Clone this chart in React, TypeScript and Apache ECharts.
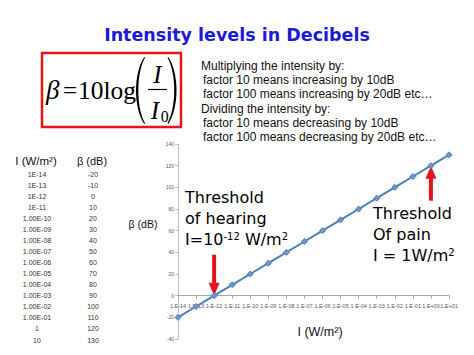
import React, { useEffect, useRef } from "react";
import * as echarts from "echarts";

const xCategories = [
  "1.E-14", "1.E-13", "1.E-12", "1.E-11", "1.E-10", "1.E-09", "1.E-08", "1.E-07",
  "1.E-06", "1.E-05", "1.E-04", "1.E-03", "1.E-02", "1.E-01", "1.E+00", "1.E+01",
];
const dbValues = [-20, -10, 0, 10, 20, 30, 40, 50, 60, 70, 80, 90, 100, 110, 120, 130];
const tableIntensity = [
  "1E-14", "1E-13", "1E-12", "1E-11", "1.00E-10", "1.00E-09", "1.00E-08", "1.00E-07",
  "1.00E-06", "1.00E-05", "1.00E-04", "1.00E-03", "1.00E-02", "1.00E-01", "1", "10",
];
const tableHeaders = ["I (W/m²)", "β (dB)"];
const yMin = -40;
const yMax = 140;
const yInterval = 20;
const title = "Intensity levels in Decibels";
const infoLines = [
  "Multiplying the intensity by:",
  "factor 10 means increasing by 10dB",
  "factor 100 means increasing by 20dB etc…",
  "Dividing the intensity by:",
  "factor 10 means decreasing by 10dB",
  "factor 100 means decreasing by 20dB etc…",
];
const hearingLines = ["Threshold", "of hearing", "I=10{sup|-12} W/m{sup|2}"];
const painLines = ["Threshold", "Of pain", "I = 1W/m{sup|2}"];
const hearingIndex = 2;
const painIndex = 14;

let registered = false;
function registerShapes() {
  if (registered) return;
  registered = true;
  echarts.graphic.registerShape(
    "paren",
    echarts.graphic.extendPath(
      "M11 0 C 0 16, 0 51, 11 67 L 11.8 66.2 C 2.8 51, 2.8 16, 11.8 0.8 Z",
      {}
    )
  );
}

export default function App() {
  const ref = useRef<HTMLDivElement>(null);
  useEffect(() => {
    if (!ref.current) return;
    registerShapes();
    const chart = echarts.init(ref.current, null, { renderer: "svg" });
    chart.setOption({
      animation: false,
      backgroundColor: "#ffffff",
      grid: { left: 178, right: 25, top: 144, bottom: 16, containLabel: false },
      xAxis: {
        type: "category",
        data: xCategories,
        boundaryGap: false,
        axisLine: { onZero: false, lineStyle: { color: "#a6a6a6", width: 1 } },
        axisTick: { show: true, length: 3, lineStyle: { color: "#a6a6a6" } },
        axisLabel: {
          interval: 0,
          fontSize: 5.5,
          color: "#595959",
          margin: 7,
          fontFamily: "Liberation Sans",
          hideOverlap: false,
        },
        splitLine: { show: false },
      },
      yAxis: {
        type: "value",
        min: yMin,
        max: yMax,
        interval: yInterval,
        axisLine: { show: true, lineStyle: { color: "#bfbfbf" } },
        axisTick: { show: true, length: 3, lineStyle: { color: "#bfbfbf" } },
        axisLabel: { fontSize: 5, color: "#595959", margin: 4, fontFamily: "Liberation Sans" },
        splitLine: { show: false },
      },
      series: [
        {
          type: "line",
          data: dbValues,
          symbol: "diamond",
          symbolSize: 6,
          lineStyle: { color: "#4a7ebb", width: 2 },
          itemStyle: { color: "#6f97cc", borderColor: "#4a7ebb", borderWidth: 1 },
        },
      ],
    });

    const zeroPx = chart.convertToPixel({ yAxisIndex: 0 }, 0) as number;
    const minPx = chart.convertToPixel({ yAxisIndex: 0 }, yMin) as number;
    chart.setOption({ xAxis: { offset: -(minPx - zeroPx) } });

    const hp = chart.convertToPixel({ xAxisIndex: 0, yAxisIndex: 0 }, [hearingIndex, dbValues[hearingIndex]]) as number[];
    const pp = chart.convertToPixel({ xAxisIndex: 0, yAxisIndex: 0 }, [painIndex, dbValues[painIndex]]) as number[];
    const red = "#e3151b";

    const annRich = {
      sup: { fontSize: 10, fontFamily: "DejaVu Sans", fill: "#000", verticalAlign: "top", lineHeight: 16 },
    };

    const graphics: any[] = [];
    graphics.push({
      type: "text",
      x: 237,
      y: 35,
      style: {
        text: title,
        fill: "#1b1bd6",
        fontSize: 17.5,
        fontWeight: "bold",
        fontFamily: "DejaVu Sans",
        align: "center",
        verticalAlign: "middle",
      },
    });
    // formula box
    graphics.push({
      type: "rect",
      shape: { x: 42, y: 53, width: 139, height: 74 },
      style: { fill: "none", stroke: red, lineWidth: 2.5 },
    });
    const serif = "Liberation Serif";
    graphics.push({
      type: "text", x: 46, y: 90,
      style: { text: "β", fontSize: 27, fontStyle: "italic", fontFamily: serif, fill: "#000", align: "left", verticalAlign: "middle" },
    });
    graphics.push({
      type: "text", x: 63, y: 90,
      style: { text: "=", fontSize: 25, fontFamily: serif, fill: "#000", align: "left", verticalAlign: "middle" },
    });
    graphics.push({
      type: "text", x: 78, y: 90,
      style: { text: "10log", fontSize: 25.5, fontFamily: serif, fill: "#000", align: "left", verticalAlign: "middle" },
    });
    graphics.push({ type: "paren", x: 133.3, y: 57, style: { fill: "#000" } });
    graphics.push({ type: "paren", x: 179.3, y: 57, scaleX: -1, style: { fill: "#000" } });
    graphics.push({
      type: "text", x: 157.5, y: 74,
      style: { text: "I", fontSize: 25, fontStyle: "italic", fontFamily: serif, fill: "#000", align: "center", verticalAlign: "middle" },
    });
    graphics.push({
      type: "line",
      shape: { x1: 148, y1: 89.5, x2: 167, y2: 89.5 },
      style: { stroke: "#000", lineWidth: 1.2 },
    });
    graphics.push({
      type: "text", x: 155, y: 110,
      style: { text: "I", fontSize: 25, fontStyle: "italic", fontFamily: serif, fill: "#000", align: "center", verticalAlign: "middle" },
    });
    graphics.push({
      type: "text", x: 164.7, y: 116,
      style: { text: "0", fontSize: 16, fontFamily: serif, fill: "#000", align: "center", verticalAlign: "middle" },
    });
    // info text
    infoLines.forEach((t, i) => {
      graphics.push({
        type: "text",
        x: t.startsWith("factor") ? 203 : 201,
        y: 66 + i * 14.2,
        style: { text: t, fontSize: 12, fontFamily: "Liberation Sans", fill: "#111", align: "left", verticalAlign: "middle" },
      });
    });
    // table
    graphics.push({
      type: "text", x: 36, y: 161,
      style: { text: tableHeaders[0], fontSize: 11.5, fontFamily: "Liberation Sans", fill: "#111", align: "center", verticalAlign: "middle" },
    });
    graphics.push({
      type: "text", x: 92, y: 161,
      style: { text: tableHeaders[1], fontSize: 11, fontFamily: "Liberation Sans", fill: "#111", align: "center", verticalAlign: "middle" },
    });
    tableIntensity.forEach((t, i) => {
      const y = 174 + i * 11.07;
      graphics.push({
        type: "text", x: 37, y,
        style: { text: t, fontSize: 7, fontFamily: "Liberation Sans", fill: "#333", align: "center", verticalAlign: "middle" },
      });
      graphics.push({
        type: "text", x: 93, y,
        style: { text: String(dbValues[i]), fontSize: 7, fontFamily: "Liberation Sans", fill: "#333", align: "center", verticalAlign: "middle" },
      });
    });
    // axis names
    graphics.push({
      type: "text", x: 143, y: 224,
      style: { text: "β (dB)", fontSize: 10.5, fontFamily: "Liberation Sans", fill: "#111", align: "center", verticalAlign: "middle" },
    });
    graphics.push({
      type: "text", x: 320, y: 332,
      style: { text: "I (W/m²)", fontSize: 12.5, fontFamily: "Liberation Sans", fill: "#111", align: "center", verticalAlign: "middle" },
    });
    // annotations
    hearingLines.forEach((t, i) => {
      graphics.push({
        type: "text", x: 185, y: 197 + i * 21,
        style: { text: t, fontSize: 16, lineHeight: 16, fontFamily: "DejaVu Sans", fill: "#000", align: "left", verticalAlign: "middle", rich: annRich },
      });
    });
    painLines.forEach((t, i) => {
      graphics.push({
        type: "text", x: 373, y: 213 + i * 21,
        style: { text: t, fontSize: 16, lineHeight: 16, fontFamily: "DejaVu Sans", fill: "#000", align: "left", verticalAlign: "middle", rich: annRich },
      });
    });
    // hearing arrow (down)
    graphics.push({
      type: "rect",
      shape: { x: hp[0] - 2, y: hp[1] - 41, width: 4, height: 29 },
      style: { fill: red },
    });
    graphics.push({
      type: "polygon",
      shape: { points: [[hp[0] - 5.5, hp[1] - 13], [hp[0] + 5.5, hp[1] - 13], [hp[0], hp[1]]] },
      style: { fill: red },
    });
    // pain arrow (up)
    graphics.push({
      type: "rect",
      shape: { x: pp[0] - 2, y: pp[1] + 12, width: 4, height: 23 },
      style: { fill: red },
    });
    graphics.push({
      type: "polygon",
      shape: { points: [[pp[0] - 5.5, pp[1] + 13], [pp[0] + 5.5, pp[1] + 13], [pp[0], pp[1]]] },
      style: { fill: red },
    });

    chart.setOption({ graphic: graphics });
    return () => chart.dispose();
  }, []);
  return (
    <div
      ref={ref}
      style={{ position: "fixed", left: 0, top: 0, width: 474, height: 355, background: "#fff" }}
    />
  );
}
